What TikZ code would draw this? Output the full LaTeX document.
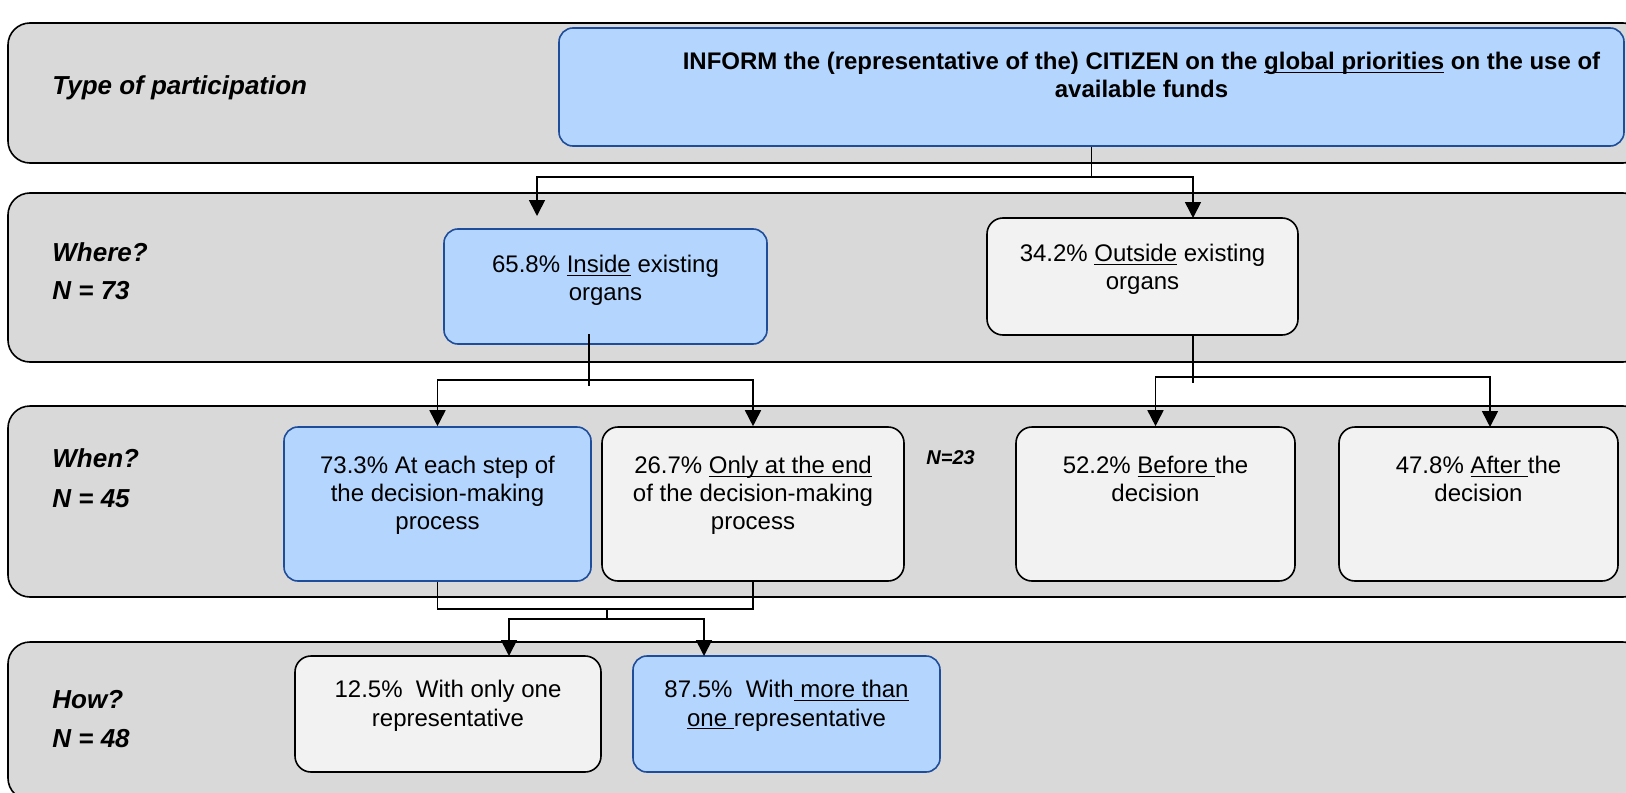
\documentclass[tikz,border=0pt]{standalone}
\usepackage{fontspec}
\setmainfont{Liberation Sans}
\usepackage{tikz}
\usetikzlibrary{arrows.meta,positioning}
\definecolor{bandfill}{HTML}{D9D9D9}
\definecolor{majorfill}{HTML}{B4D6FE}
\definecolor{majordraw}{HTML}{1E4D9B}
\definecolor{minorfill}{HTML}{F2F2F2}
\newcommand{\keyword}[1]{\underline{\smash{#1}}}
\tikzset{
  band/.style={
    draw=black,
    fill=bandfill,
    line width=0.8pt,
    rounded corners=11pt
  },
  major option/.style={
    rectangle,
    draw=majordraw,
    fill=majorfill,
    line width=0.8pt,
    rounded corners=7pt,
    inner sep=0pt
  },
  minor option/.style={
    rectangle,
    draw=black,
    fill=minorfill,
    line width=0.8pt,
    rounded corners=8pt,
    inner sep=0pt
  },
  option text/.style={
    font=\fontsize{12}{14}\selectfont,
    align=center,
    inner sep=0pt
  },
  row title/.style={
    font=\bfseries\itshape\fontsize{13}{15}\selectfont,
    anchor=west,
    inner sep=0pt
  },
  link/.style={
    draw=black,
    line width=0.85pt
  },
  flow/.style={
    link,
    -{Triangle[length=8pt,width=8pt]}
  }
}

\begin{document}
\begin{tikzpicture}[x=0.5pt,y=-0.5pt]
  \useasboundingbox (0,0) rectangle (1626,792);
  \clip (0,0) rectangle (1626,792);

  % row bands
  \draw[band] (8,23) rectangle (1645,163);
  \draw[band] (8,193) rectangle (1645,362);
  \draw[band] (8,406) rectangle (1645,597);
  \draw[band] (8,642) rectangle (1645,800);

  \node[row title] (R-type) at (52,88) {Type of participation};
  \node[row title] (R-where) at (52,252) {Where?};
  \node[row title] (N-where) at (52,291) {N = 73};
  \node[row title] (R-when) at (52,458) {When?};
  \node[row title] (N-when) at (52,499) {N = 45};
  \node[row title] (R-how) at (52,700) {How?};
  \node[row title] (N-how) at (52,739) {N = 48};
  \node[row title,font=\bfseries\itshape\fontsize{10}{12}\selectfont] (N-outside) at (926,458) {N=23};

  % option boxes
  \node[major option,minimum width=532.5pt,minimum height=59pt] (inform) at (1091.5,87) {};
  \node[option text,font=\bfseries\fontsize{12}{14}\selectfont,below=12.5pt of inform.north,xshift=25pt] (inform-t)
    {INFORM the (representative of the) CITIZEN on the \keyword{global priorities} on the use of\\available funds};

  \node[major option,minimum width=161.5pt,minimum height=57.5pt] (inside) at (605.5,286.5) {};
  \node[option text,below=13.5pt of inside.north] (inside-t) {65.8\% \keyword{Inside} existing\\organs};
  \node[minor option,minimum width=155.5pt,minimum height=58.5pt] (outside) at (1142.5,276.5) {};
  \node[option text,below=13.5pt of outside.north] (outside-t) {34.2\% \keyword{Outside} existing\\organs};

  \node[major option,minimum width=153.5pt,minimum height=77pt] (everystep) at (437.5,504) {};
  \node[option text,below=15pt of everystep.north] (everystep-t) {73.3\% At each step of\\the decision-making\\process};
  \node[minor option,minimum width=151pt,minimum height=77pt] (atend) at (753,504) {};
  \node[option text,below=15pt of atend.north] (atend-t) {26.7\% \keyword{Only at the end}\\of the decision-making\\process};
  \node[minor option,minimum width=139.5pt,minimum height=77pt] (before) at (1155.5,504) {};
  \node[option text,below=15pt of before.north] (before-t) {52.2\% \keyword{Before }the\\decision};
  \node[minor option,minimum width=139.5pt,minimum height=77pt] (after) at (1478.5,504) {};
  \node[option text,below=15pt of after.north] (after-t) {47.8\% \keyword{After }the\\decision};

  \node[minor option,minimum width=153pt,minimum height=58pt] (onerep) at (448,714) {};
  \node[option text,below=12.5pt of onerep.north] (onerep-t) {12.5\%\ \ With only one\\representative};
  \node[major option,minimum width=153.5pt,minimum height=58pt] (morerep) at (786.5,714) {};
  \node[option text,below=12.5pt of morerep.north] (morerep-t) {87.5\%\ \ With\keyword{ more than}\\\keyword{one }representative};

  % connectors
  \coordinate (top-fork) at (1093,177);
  \coordinate (inside-tip) at (537,216);
  \coordinate (outside-tip) at (1193,218);
  \draw[link] (inform.south) |- (top-fork);
  \draw[flow] (top-fork) -| (inside-tip);
  \draw[flow] (top-fork) -| (outside-tip);

  \coordinate (inside-stem) at (589,334);
  \coordinate (inside-fork) at (589,380);
  \draw[link] (inside-stem) -- ([yshift=-3pt]inside-fork);
  \draw[flow] (inside-fork) -| (everystep.north);
  \draw[flow] (inside-fork) -| (atend.north);

  \coordinate (outside-fork) at (1193,377);
  \coordinate (after-tip) at (1490,427);
  \draw[link] (outside.south -| outside-fork) -- ([yshift=-3pt]outside-fork);
  \draw[flow] (outside-fork) -| (before.north);
  \draw[flow] (outside-fork) -| (after-tip);

  \coordinate (when-merge) at (607,609);
  \coordinate (how-fork) at (607,619);
  \coordinate (one-tip) at (509,656);
  \coordinate (more-tip) at (704,656);
  \draw[link] (everystep.south) |- (when-merge) -| (atend.south);
  \draw[link] (when-merge) -- (how-fork);
  \draw[flow] (how-fork) -| (one-tip);
  \draw[flow] (how-fork) -| (more-tip);
\end{tikzpicture}
\end{document}
